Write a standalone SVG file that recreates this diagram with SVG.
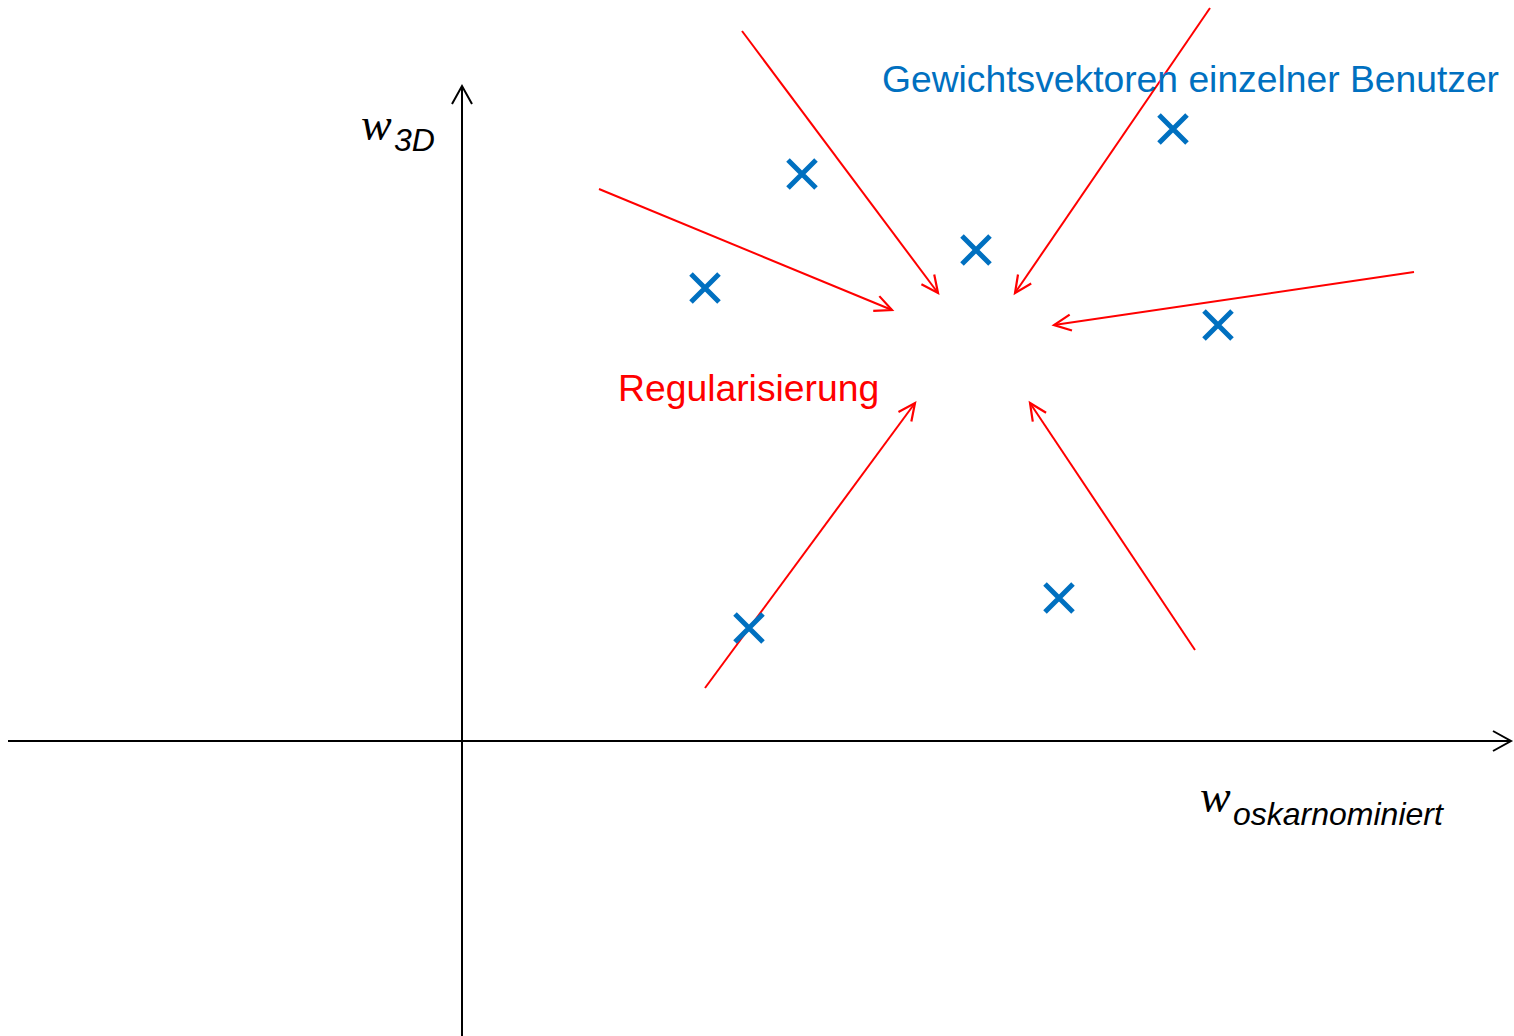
<svg xmlns="http://www.w3.org/2000/svg" width="1514" height="1036" viewBox="0 0 1514 1036">
<style>
.axis{stroke:#000;stroke-width:2;fill:none}
.reg{stroke:#FF0000;stroke-width:2;fill:none}
.cross{stroke:#0070C0;stroke-width:5;fill:none}
.sans{font-family:"Liberation Sans",Arial,sans-serif}
.ser{font-family:"Liberation Serif","Times New Roman",serif;font-style:italic}
</style>
<defs>
<marker id="axHead" markerUnits="userSpaceOnUse" markerWidth="30" markerHeight="30" viewBox="-20 -15 30 30" refX="0" refY="0" orient="auto">
<path d="M-18,-10 L0,0 L-18,10" fill="none" stroke="#000" stroke-width="2"/>
</marker>
<marker id="redHead" markerUnits="userSpaceOnUse" markerWidth="30" markerHeight="30" viewBox="-20 -15 30 30" refX="0" refY="0" orient="auto">
<path d="M-17,-8 L0,0 L-17,8" fill="none" stroke="#FF0000" stroke-width="2.2"/>
</marker>
<g id="x"><path class="cross" d="M-14,-14 L14,14 M-14,14 L14,-14"/></g>
</defs>
<rect width="1514" height="1036" fill="#fff"/>
<g id="axes">
<line class="axis" x1="462" y1="1036" x2="462" y2="86" marker-end="url(#axHead)"/>
<line class="axis" x1="8" y1="741" x2="1511" y2="741" marker-end="url(#axHead)"/>
</g>
<g id="connectors">
<line class="reg" x1="742" y1="31" x2="938" y2="293" marker-end="url(#redHead)"/>
<line class="reg" x1="1210" y1="8" x2="1015" y2="293" marker-end="url(#redHead)"/>
<line class="reg" x1="599" y1="189" x2="892" y2="310" marker-end="url(#redHead)"/>
<line class="reg" x1="1414" y1="272" x2="1054" y2="325" marker-end="url(#redHead)"/>
<line class="reg" x1="705" y1="688" x2="915" y2="403" marker-end="url(#redHead)"/>
<line class="reg" x1="1195" y1="650" x2="1030" y2="403" marker-end="url(#redHead)"/>
</g>
<g id="points">
<use href="#x" x="802" y="174"/>
<use href="#x" x="705" y="288"/>
<use href="#x" x="976" y="250"/>
<use href="#x" x="1173" y="129"/>
<use href="#x" x="1218" y="325"/>
<use href="#x" x="749" y="628"/>
<use href="#x" x="1059" y="598"/>
</g>
<g id="label-y">
<text x="361" y="140" class="ser" font-size="46">w</text>
<text x="394" y="151" class="sans" font-style="italic" font-size="32">3D</text>
</g>
<g id="label-x">
<text x="1200" y="812" class="ser" font-size="46">w</text>
<text x="1233" y="825" class="sans" font-style="italic" font-size="32">oskarnominiert</text>
</g>
<g id="label-users">
<text x="882" y="92" class="sans" font-size="37.25" fill="#0070C0">Gewichtsvektoren einzelner Benutzer</text>
</g>
<g id="label-reg">
<text x="618" y="401" class="sans" font-size="37.3" fill="#FF0000">Regularisierung</text>
</g>
</svg>
